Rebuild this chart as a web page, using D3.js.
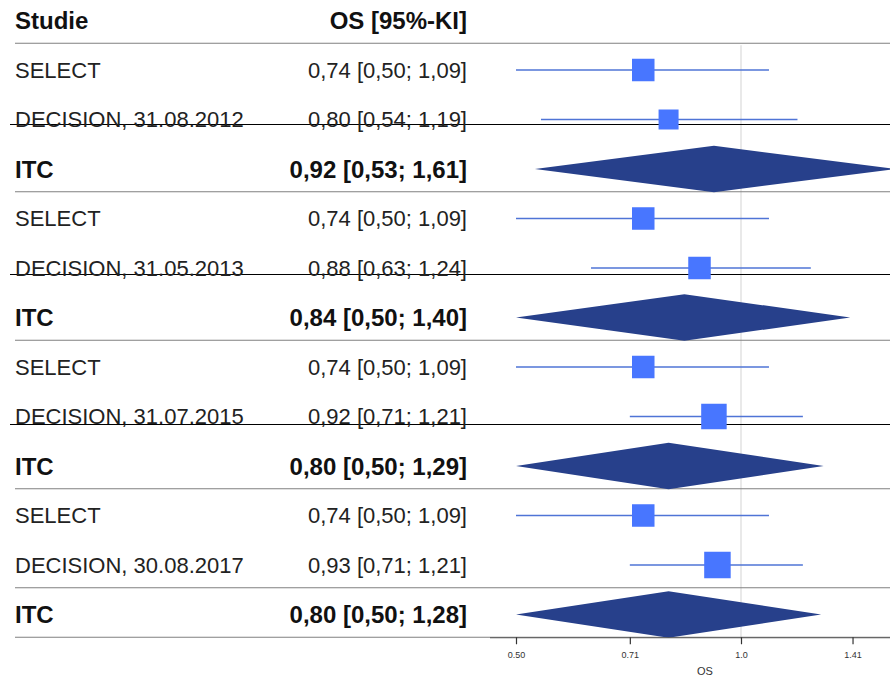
<!DOCTYPE html>
<html>
<head>
<meta charset="utf-8">
<script src="https://cdn.jsdelivr.net/npm/d3@7"></script>
<style>
  body { margin: 0; background: #fff; }
  svg { display: block; font-family: "Liberation Sans", Arial, sans-serif; }
</style>
</head>
<body>
<div id="chart"></div>
<script>
// data
const headers = ["Studie", "OS [95%-KI]"];
const decisionDates = ["31.08.2012", "31.05.2013", "31.07.2015", "30.08.2017"];

const selectOS = [0.74, 0.74, 0.74, 0.74];
const selectLo = [0.50, 0.50, 0.50, 0.50];
const selectHi = [1.09, 1.09, 1.09, 1.09];
const selectWeight = [0.45, 0.45, 0.45, 0.45];

const decisionOS = [0.80, 0.88, 0.92, 0.93];
const decisionLo = [0.54, 0.63, 0.71, 0.71];
const decisionHi = [1.19, 1.24, 1.21, 1.21];
const decisionWeight = [0.40, 0.45, 0.51, 0.53];

const itcOS = [0.92, 0.84, 0.80, 0.80];
const itcLo = [0.53, 0.50, 0.50, 0.50];
const itcHi = [1.61, 1.40, 1.29, 1.28];

const tickValues = [0.50, 0.71, 1.0, 1.41];
const tickLabels = ["0.50", "0.71", "1.0", "1.41"];
const axisTitle = "OS";

const WIDTH = 890, HEIGHT = 681;
const ROW0 = 20.5, STEP = 49.5;
const TEXT_LEFT = 15, TEXT_RIGHT = 467;
const FS = 22, FS_BOLD = 24;

const fmt = v => v.toFixed(2).replace(".", ",");

// build rows: one per study line
const rows = [];
decisionDates.forEach((date, i) => {
	rows.push({ name: "SELECT", os: selectOS[i], lo: selectLo[i], hi: selectHi[i], w: selectWeight[i], type: "study", group: i });
	rows.push({ name: "DECISION, " + date, os: decisionOS[i], lo: decisionLo[i], hi: decisionHi[i], w: decisionWeight[i], type: "study", group: i });
	rows.push({ name: "ITC", os: itcOS[i], lo: itcLo[i], hi: itcHi[i], type: "summary", group: i });
});
rows.forEach((r, i) => r.row = i + 1);

//scales
const x = d3.scaleLog().domain([0.5, 1]).range([516, 741]);
const y = d3.scaleLinear().domain([0, 1]).range([ROW0, ROW0 + STEP]);
const box = d3.scaleLinear().domain([0, 1]).range([0, 50]);

const svg = d3.select("#chart")
	.append("svg")
	.attr("width", WIDTH)
	.attr("height", HEIGHT);

// reference line at 1
svg.append("line")
	.attr("x1", x(1)).attr("x2", x(1))
	.attr("y1", y(0.5)).attr("y2", y(rows.length + 0.5))
	.attr("stroke", "#d3d3d3")
	.attr("stroke-width", 1);

// separator lines
const grayRows = [0.5, 3.5, 6.5, 9.5, 11.5, 12.5];
svg.selectAll("line.sep")
	.data(grayRows)
	.join("line")
	.attr("class", "sep")
	.attr("x1", TEXT_LEFT).attr("x2", WIDTH)
	.attr("y1", d => y(d) - 2).attr("y2", d => y(d) - 2)
	.attr("stroke", "#808080")
	.attr("stroke-width", 1.2);

const blackRows = rows.filter(r => r.name.startsWith("DECISION") && r.group < 3);
svg.selectAll("line.blk")
	.data(blackRows)
	.join("line")
	.attr("class", "blk")
	.attr("x1", 10).attr("x2", WIDTH)
	.attr("y1", (d, i) => y(d.row) + 5 + i * 1.5)
	.attr("y2", (d, i) => y(d.row) + 5 + i * 1.5)
	.attr("stroke", "#000")
	.attr("stroke-width", 1.2);

// header
svg.append("text")
	.attr("x", TEXT_LEFT).attr("y", y(0))
	.attr("dy", "0.35em")
	.attr("font-size", FS_BOLD).attr("font-weight", "bold")
	.attr("fill", "#111")
	.text(headers[0]);
svg.append("text")
	.attr("x", TEXT_RIGHT).attr("y", y(0))
	.attr("dy", "0.35em")
	.attr("text-anchor", "end")
	.attr("font-size", FS_BOLD).attr("font-weight", "bold")
	.attr("fill", "#111")
	.text(headers[1]);

// row labels
const labels = svg.selectAll("g.row")
	.data(rows)
	.join("g")
	.attr("class", "row")
	.attr("transform", d => `translate(0, ${y(d.row)})`);

labels.append("text")
	.attr("x", TEXT_LEFT)
	.attr("dy", "0.36em")
	.attr("font-size", d => d.type === "summary" ? FS_BOLD : FS)
	.attr("font-weight", d => d.type === "summary" ? "bold" : "normal")
	.attr("fill", d => d.type === "summary" ? "#111" : "#222")
	.text(d => d.name);

labels.append("text")
	.attr("x", TEXT_RIGHT)
	.attr("dy", "0.36em")
	.attr("text-anchor", "end")
	.attr("font-size", d => d.type === "summary" ? FS_BOLD : FS)
	.attr("font-weight", d => d.type === "summary" ? "bold" : "normal")
	.attr("fill", d => d.type === "summary" ? "#111" : "#222")
	.text(d => `${fmt(d.os)} [${fmt(d.lo)}; ${fmt(d.hi)}]`);

// CI lines
const studies = rows.filter(d => d.type === "study");
svg.selectAll("line.ci")
	.data(studies)
	.join("line")
	.attr("class", "ci")
	.attr("x1", d => x(d.lo)).attr("x2", d => x(d.hi))
	.attr("y1", d => y(d.row)).attr("y2", d => y(d.row))
	.attr("stroke", "#4f74d6")
	.attr("stroke-width", 1.3);

// boxes
svg.selectAll("rect.box")
	.data(studies)
	.join("rect")
	.attr("class", "box")
	.attr("x", d => x(d.os) - box(d.w) / 2)
	.attr("y", d => y(d.row) - box(d.w) / 2)
	.attr("width", d => box(d.w))
	.attr("height", d => box(d.w))
	.attr("fill", "#4876FF");

// summary diamonds
const half = STEP * 0.47;
svg.selectAll("path.diamond")
	.data(rows.filter(d => d.type === "summary"))
	.join("path")
	.attr("class", "diamond")
	.attr("d", d => {
		const cy = y(d.row);
		return `M${x(d.lo)},${cy}L${x(d.os)},${cy - half}L${x(d.hi)},${cy}L${x(d.os)},${cy + half}Z`;
	})
	.attr("fill", "#27408B");

// x axis
const axisY = y(rows.length + 0.5) - 2;
const xAxis = d3.axisBottom(x)
	.tickValues(tickValues)
	.tickFormat((d, i) => tickLabels[i])
	.tickSize(7)
	.tickSizeOuter(0);

const axisG = svg.append("g")
	.attr("transform", `translate(0, ${axisY})`)
	.call(xAxis);
axisG.select(".domain").attr("d", `M490,0.5H${WIDTH}`).attr("stroke", "#555");
axisG.selectAll(".tick line").attr("stroke", "#333").attr("stroke-width", 1.2);
axisG.selectAll(".tick text")
	.attr("font-size", 9)
	.attr("font-family", "Liberation Sans, Arial, sans-serif")
	.attr("fill", "#333")
	.attr("dy", "1.2em");

svg.append("text")
	.attr("x", 705).attr("y", axisY + 38)
	.attr("text-anchor", "middle")
	.attr("font-size", 11)
	.attr("fill", "#333")
	.text(axisTitle);
</script>
</body>
</html>
